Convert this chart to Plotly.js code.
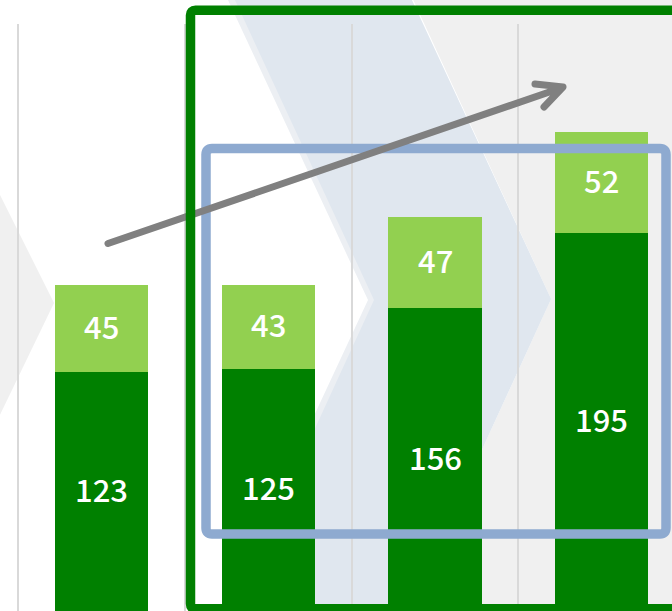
<!DOCTYPE html>
<html>
<head>
<meta charset="utf-8">
<script src="https://cdn.plot.ly/plotly-3.0.1.min.js"></script>
<style>html,body{margin:0;padding:0;background:#fff;}#chart{width:672px;height:611px;}</style>
</head>
<body>
<div id="chart"></div>
<script>
// ---- data ----
const categories = ['Q1', 'Q2', 'Q3', 'Q4'];
const baseValues = [123, 125, 156, 195];
const topValues = [45, 43, 47, 52];

// ---- colours ----
const darkGreen = '#008000';
const lightGreen = '#92D050';

// pixel -> paper helpers (plot area spans y 24..611, x 0..672)
const W = 672, H = 611, T = 24;
function X(x) { return (x / W).toFixed(5); }
function Y(y) { return ((H - y) / (H - T)).toFixed(5); }
function P(x, y) { return X(x) + ',' + Y(y); }
function poly(pts) { return 'M' + pts.map(p => P(p[0], p[1])).join(' L') + ' Z'; }
function rrect(x0, y0, x1, y1, r) {
  return 'M' + P(x0 + r, y0) + ' L' + P(x1 - r, y0) + ' Q' + P(x1, y0) + ' ' + P(x1, y0 + r) +
    ' L' + P(x1, y1 - r) + ' Q' + P(x1, y1) + ' ' + P(x1 - r, y1) +
    ' L' + P(x0 + r, y1) + ' Q' + P(x0, y1) + ' ' + P(x0, y1 - r) +
    ' L' + P(x0, y0 + r) + ' Q' + P(x0, y0) + ' ' + P(x0 + r, y0) + ' Z';
}

const labelFont = { family: '"Noto Sans CJK JP", "Noto Sans", sans-serif', size: 31, color: '#ffffff', weight: 500 };

const traces = [
  { type: 'bar', x: categories, y: baseValues, width: 0.559,
    marker: { color: darkGreen, line: { width: 0 } }, hoverinfo: 'skip' },
  { type: 'bar', x: categories, y: topValues, width: 0.559,
    marker: { color: lightGreen, line: { width: 0 } }, hoverinfo: 'skip' }
];

// segment value labels, centred on each stacked segment
const annotations = [];
categories.forEach(function (c, i) {
  annotations.push({ x: i, y: baseValues[i] / 2, xref: 'x', yref: 'y', text: String(baseValues[i]),
    showarrow: false, font: labelFont, xanchor: 'center', yanchor: 'middle', yshift: 3 });
  annotations.push({ x: i, y: baseValues[i] + topValues[i] / 2, xref: 'x', yref: 'y', text: String(topValues[i]),
    showarrow: false, font: labelFont, xanchor: 'center', yanchor: 'middle', yshift: 3 });
});

const shapes = [
  // background chevrons
  { type: 'path', xref: 'paper', yref: 'paper', layer: 'below', line: { width: 0 }, fillcolor: '#f0f0f0',
    path: poly([[-5, 185], [54, 303], [-5, 425]]) },
  { type: 'path', xref: 'paper', yref: 'paper', layer: 'below', line: { width: 0 }, fillcolor: '#f0f0f0',
    path: poly([[411, -5], [700, -5], [700, 620], [404, 620], [551, 299]]) },
  { type: 'path', xref: 'paper', yref: 'paper', layer: 'below', line: { width: 0 }, fillcolor: '#eceff3',
    path: poly([[228, 0], [411, 0], [551, 299], [406, 611], [223, 611], [368, 300]]) },
  { type: 'path', xref: 'paper', yref: 'paper', layer: 'below', line: { width: 0 }, fillcolor: '#e0e7ef',
    path: poly([[234, -2], [411, -2], [551, 299], [404, 620], [227, 620], [374, 300]]) },
  // blue rounded frame
  { type: 'path', xref: 'paper', yref: 'paper', layer: 'above', fillcolor: 'rgba(0,0,0,0)',
    line: { color: '#8eaad0', width: 9.5 }, path: rrect(206, 148.5, 666, 534, 6) },
  // trend arrow
  { type: 'path', xref: 'paper', yref: 'paper', layer: 'above', fillcolor: 'rgba(0,0,0,0)',
    line: { color: '#808080', width: 7 },
    path: 'M' + P(108, 243.5) + ' L' + P(561, 88) + ' M' + P(535, 84) + ' L' + P(563, 87) + ' L' + P(544, 107) },
  // green frame
  { type: 'path', xref: 'paper', yref: 'paper', layer: 'above', fillcolor: 'rgba(0,0,0,0)',
    line: { color: darkGreen, width: 9.5 }, path: rrect(190.5, 10.3, 720, 608.8, 5) }
];

const layout = {
  width: 672, height: 611,
  margin: { l: 0, r: 0, t: 24, b: 0, pad: 0 },
  paper_bgcolor: '#ffffff', plot_bgcolor: 'rgba(0,0,0,0)',
  barmode: 'stack', showlegend: false,
  xaxis: {
    type: 'category', range: [-0.6079, 3.4209], tickson: 'boundaries',
    showgrid: true, gridcolor: '#d9d9d9', gridwidth: 2,
    showticklabels: false, ticks: '', zeroline: false, showline: false, fixedrange: true
  },
  yaxis: {
    range: [0, 302.6], showgrid: false, zeroline: false, showticklabels: false,
    ticks: '', showline: false, fixedrange: true
  },
  shapes: shapes,
  annotations: annotations
};

Plotly.newPlot('chart', traces, layout, { displayModeBar: false, staticPlot: true }).then(function () {
  document.querySelectorAll('.shapelayer path').forEach(function (p) {
    const s = p.style.stroke || p.getAttribute('stroke') || '';
    if (s.indexOf('128, 128, 128') >= 0 || s.toLowerCase() === '#808080') {
      p.style.strokeLinecap = 'round';
      p.style.strokeLinejoin = 'round';
    }
    if (s.indexOf('0, 128, 0') >= 0 || s.indexOf('142, 170, 208') >= 0) {
      p.style.strokeLinejoin = 'round';
    }
  });
});
</script>
</body>
</html>
